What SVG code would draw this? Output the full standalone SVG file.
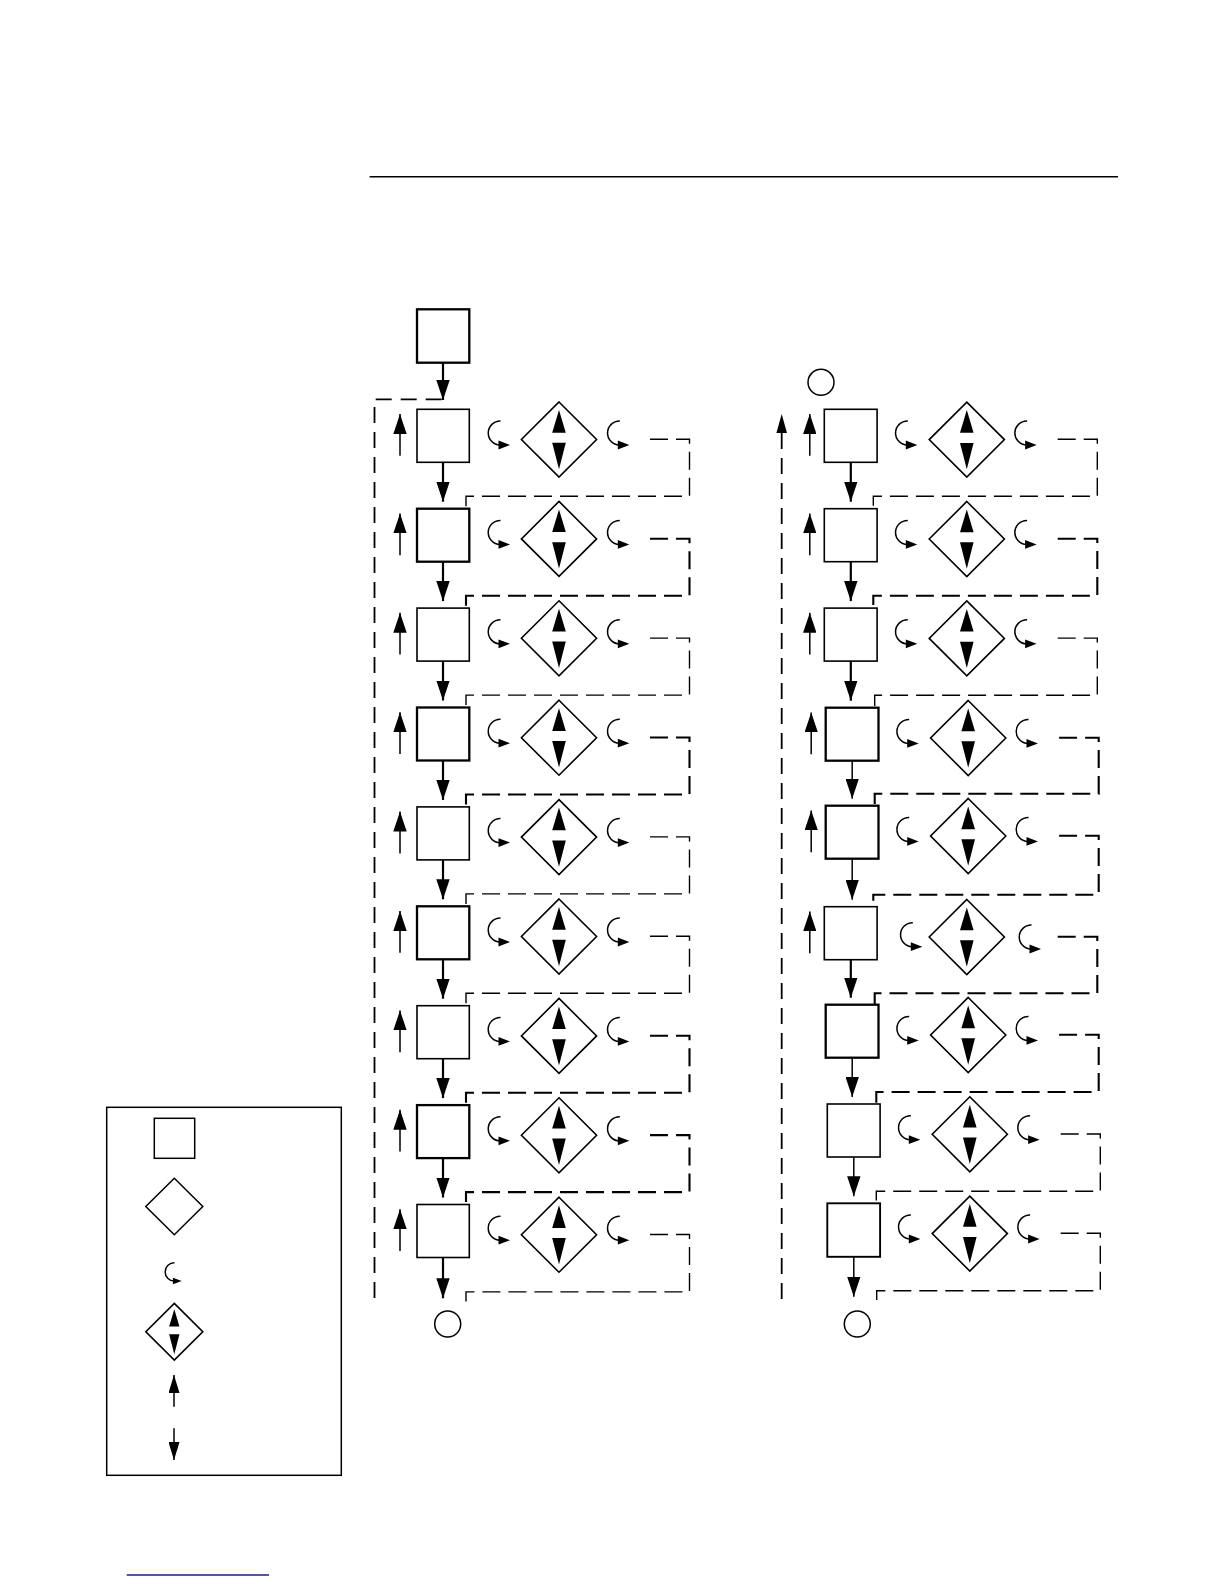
<svg xmlns="http://www.w3.org/2000/svg" width="1224" height="1584" viewBox="0 0 1224 1584">
<style>
.bx{fill:#fff;stroke:#000;stroke-width:1.6}
.bxt{fill:#fff;stroke:#000;stroke-width:2.3}
.sh{fill:none;stroke:#000;stroke-width:2.2}
.shu{fill:none;stroke:#000;stroke-width:1.5}
.dl{fill:none;stroke:#000;stroke-width:1.4;stroke-dasharray:18 8}
.dh{fill:none;stroke:#000;stroke-width:2.1;stroke-dasharray:18 8}
.fb{fill:none;stroke:#000;stroke-width:1.8;stroke-dasharray:16 9}
.ci{fill:#fff;stroke:#000;stroke-width:1.5}
</style>
<defs>
<marker id="ah" viewBox="0 0 20 13.4" refX="20" refY="6.7" markerWidth="20" markerHeight="13.4" markerUnits="userSpaceOnUse" orient="auto"><path d="M0,0 L20,6.7 L0,13.4 z" fill="#000"/></marker>
<marker id="ahs" viewBox="0 0 18 11" refX="18" refY="5.5" markerWidth="18" markerHeight="11" markerUnits="userSpaceOnUse" orient="auto"><path d="M0,0 L18,5.5 L0,11 z" fill="#000"/></marker>
<g id="curl"><path d="M-9.5,-24 A12,12 0 0 0 -10,0" fill="none" stroke="#000" stroke-width="1.5" vector-effect="non-scaling-stroke"/><polygon points="-11.5,-4.4 0,0 -11.5,4.4" fill="#000"/></g>
<g id="valve"><polygon points="0,-37.5 37.6,0 0,37.5 -37.6,0" fill="#fff" stroke="#000" stroke-width="1.6" vector-effect="non-scaling-stroke"/><polygon points="0,-29.5 6.8,-6.8 -6.8,-6.8" fill="#000"/><polygon points="-6.8,3.3 6.8,3.3 0,29.7" fill="#000"/></g>
</defs>
<rect width="1224" height="1584" fill="#fff"/>
<line x1="369.6" y1="176.7" x2="1118" y2="176.7" stroke="#000" stroke-width="1.5"/>

<!-- Left column nodes -->
<g id="L0-box"><rect class="bxt" x="417" y="309.3" width="52.3" height="53.4"/></g>
<g id="L1-box"><rect class="bx" x="417" y="409.3" width="52.3" height="53"/></g>
<g id="L2-box"><rect class="bxt" x="417" y="508.7" width="52.3" height="53"/></g>
<g id="L3-box"><rect class="bx" x="417" y="608.1" width="52.3" height="53"/></g>
<g id="L4-box"><rect class="bxt" x="417" y="707.5" width="52.3" height="53"/></g>
<g id="L5-box"><rect class="bx" x="417" y="806.9" width="52.3" height="53"/></g>
<g id="L6-box"><rect class="bxt" x="417" y="906.3" width="52.3" height="53"/></g>
<g id="L7-box"><rect class="bx" x="417" y="1005.7" width="52.3" height="53"/></g>
<g id="L8-box"><rect class="bxt" x="417" y="1105.1" width="52.3" height="53"/></g>
<g id="L9-box"><rect class="bx" x="417" y="1204.5" width="52.3" height="53"/></g>
<g id="L1-valve"><use href="#valve" transform="translate(559,439.5)"/></g>
<g id="L2-valve"><use href="#valve" transform="translate(559,538.9)"/></g>
<g id="L3-valve"><use href="#valve" transform="translate(559,638.3)"/></g>
<g id="L4-valve"><use href="#valve" transform="translate(559,737.7)"/></g>
<g id="L5-valve"><use href="#valve" transform="translate(559,837.1)"/></g>
<g id="L6-valve"><use href="#valve" transform="translate(559,936.5)"/></g>
<g id="L7-valve"><use href="#valve" transform="translate(559,1035.9)"/></g>
<g id="L8-valve"><use href="#valve" transform="translate(559,1135.3)"/></g>
<g id="L9-valve"><use href="#valve" transform="translate(559,1234.7)"/></g>
<g id="L-end"><circle class="ci" cx="447.7" cy="1324" r="13"/></g>

<!-- Right column nodes -->
<g id="R-start"><circle class="ci" cx="821" cy="382.3" r="13"/></g>
<g id="R1-box"><rect class="bx" x="824.3" y="409.3" width="52.8" height="53"/></g>
<g id="R2-box"><rect class="bx" x="824.3" y="508.7" width="52.8" height="53"/></g>
<g id="R3-box"><rect class="bx" x="824.3" y="608.1" width="52.8" height="53"/></g>
<g id="R4-box"><rect class="bxt" x="825.7" y="707.7" width="52.8" height="53"/></g>
<g id="R5-box"><rect class="bxt" x="825.7" y="805.7" width="52.8" height="53"/></g>
<g id="R6-box"><rect class="bx" x="824.3" y="906.7" width="52.8" height="53"/></g>
<g id="R7-box"><rect class="bxt" x="825.7" y="1004.7" width="52.8" height="53"/></g>
<g id="R8-box"><rect class="bx" x="827.3" y="1104" width="52.8" height="53"/></g>
<g id="R9-box"><rect class="bx" x="827.3" y="1203.3" width="52.8" height="53.5" style="stroke-width:1.9"/></g>
<g id="R1-valve"><use href="#valve" transform="translate(966.8,439.6)"/></g>
<g id="R2-valve"><use href="#valve" transform="translate(966.8,539)"/></g>
<g id="R3-valve"><use href="#valve" transform="translate(966.8,638.4)"/></g>
<g id="R4-valve"><use href="#valve" transform="translate(968.2,738)"/></g>
<g id="R5-valve"><use href="#valve" transform="translate(968.2,836)"/></g>
<g id="R6-valve"><use href="#valve" transform="translate(966.8,937)"/></g>
<g id="R7-valve"><use href="#valve" transform="translate(968.2,1035)"/></g>
<g id="R8-valve"><use href="#valve" transform="translate(969.8,1134.3)"/></g>
<g id="R9-valve"><use href="#valve" transform="translate(969.8,1233.6)"/></g>
<g id="R-end"><circle class="ci" cx="857.3" cy="1324" r="13"/></g>

<!-- Connectors -->
<g id="connectors">
<!-- left column down arrows -->
<line class="sh" x1="443" y1="362.7" x2="443" y2="400" marker-end="url(#ah)"/>
<line class="sh" x1="443" y1="462.3" x2="443" y2="501.7" marker-end="url(#ah)"/>
<line class="sh" x1="443" y1="561.7" x2="443" y2="601.1" marker-end="url(#ah)"/>
<line class="sh" x1="443" y1="661.1" x2="443" y2="700.5" marker-end="url(#ah)"/>
<line class="sh" x1="443" y1="760.5" x2="443" y2="799.9" marker-end="url(#ah)"/>
<line class="sh" x1="443" y1="859.9" x2="443" y2="899.3" marker-end="url(#ah)"/>
<line class="sh" x1="443" y1="959.3" x2="443" y2="998.7" marker-end="url(#ah)"/>
<line class="sh" x1="443" y1="1058.7" x2="443" y2="1098.1" marker-end="url(#ah)"/>
<line class="sh" x1="443" y1="1158.1" x2="443" y2="1197.5" marker-end="url(#ah)"/>
<line class="sh" x1="443" y1="1257.5" x2="443" y2="1298.3" marker-end="url(#ah)"/>
<!-- left column up arrows -->
<line class="shu" x1="400" y1="455.8" x2="400" y2="414" marker-end="url(#ah)"/>
<line class="shu" x1="400" y1="555.2" x2="400" y2="513.4" marker-end="url(#ah)"/>
<line class="shu" x1="400" y1="654.6" x2="400" y2="612.8" marker-end="url(#ah)"/>
<line class="shu" x1="400" y1="754" x2="400" y2="712.2" marker-end="url(#ah)"/>
<line class="shu" x1="400" y1="853.4" x2="400" y2="811.6" marker-end="url(#ah)"/>
<line class="shu" x1="400" y1="952.8" x2="400" y2="911" marker-end="url(#ah)"/>
<line class="shu" x1="400" y1="1052.2" x2="400" y2="1010.4" marker-end="url(#ah)"/>
<line class="shu" x1="400" y1="1151.6" x2="400" y2="1109.8" marker-end="url(#ah)"/>
<line class="shu" x1="400" y1="1251" x2="400" y2="1209.2" marker-end="url(#ah)"/>
<!-- left column curls -->
<use href="#curl" transform="translate(510,445)"/><use href="#curl" transform="translate(629.3,445)"/>
<use href="#curl" transform="translate(510,544.4)"/><use href="#curl" transform="translate(629.3,544.4)"/>
<use href="#curl" transform="translate(510,643.8)"/><use href="#curl" transform="translate(629.3,643.8)"/>
<use href="#curl" transform="translate(510,743.2)"/><use href="#curl" transform="translate(629.3,743.2)"/>
<use href="#curl" transform="translate(510,842.6)"/><use href="#curl" transform="translate(629.3,842.6)"/>
<use href="#curl" transform="translate(510,942)"/><use href="#curl" transform="translate(629.3,942)"/>
<use href="#curl" transform="translate(510,1041.4)"/><use href="#curl" transform="translate(629.3,1041.4)"/>
<use href="#curl" transform="translate(510,1140.8)"/><use href="#curl" transform="translate(629.3,1140.8)"/>
<use href="#curl" transform="translate(510,1240.2)"/><use href="#curl" transform="translate(629.3,1240.2)"/>
<!-- left column dashed loops -->
<path class="dl" d="M650,439.3 H689.5 V496.3 H466 V508.7"/>
<path class="dh" d="M650,538.7 H689.5 V595.7 H466 V608.1"/>
<path class="dl" d="M650,638.1 H689.5 V695.1 H466 V707.5"/>
<path class="dh" d="M650,737.5 H689.5 V794.5 H466 V806.9"/>
<path class="dl" d="M650,836.9 H689.5 V893.9 H466 V906.3"/>
<path class="dl" d="M650,936.3 H689.5 V993.3 H466 V1005.7"/>
<path class="dh" d="M650,1035.7 H689.5 V1092.7 H466 V1105.1"/>
<path class="dh" d="M650,1135.1 H689.5 V1192.1 H466 V1204.5"/>
<path class="dl" d="M650,1234.5 H689.5 V1291.9 H466 V1302.5"/>
<!-- left feedback -->
<path class="fb" d="M441.7,399.3 H374.5 V1305"/>

<!-- right column down arrows -->
<line class="sh" x1="850.8" y1="462.3" x2="850.8" y2="501.7" marker-end="url(#ah)"/>
<line class="sh" x1="850.8" y1="561.7" x2="850.8" y2="601.1" marker-end="url(#ah)"/>
<line class="sh" x1="850.8" y1="661.1" x2="850.8" y2="700.7" marker-end="url(#ah)"/>
<line class="shu" x1="852.2" y1="760.7" x2="852.2" y2="798.7" marker-end="url(#ah)"/>
<line class="shu" x1="852.2" y1="858.7" x2="852.2" y2="899.7" marker-end="url(#ah)"/>
<line class="sh" x1="850.8" y1="959.7" x2="850.8" y2="997.7" marker-end="url(#ah)"/>
<line class="shu" x1="852.2" y1="1057.7" x2="852.2" y2="1097" marker-end="url(#ah)"/>
<line class="shu" x1="853.8" y1="1157" x2="853.8" y2="1196.3" marker-end="url(#ah)"/>
<line class="shu" x1="853.8" y1="1256.8" x2="853.8" y2="1296.7" marker-end="url(#ah)"/>
<!-- right column up arrows -->
<line class="shu" x1="809.8" y1="455.8" x2="809.8" y2="414" marker-end="url(#ah)"/>
<line class="shu" x1="809.8" y1="555.2" x2="809.8" y2="513.4" marker-end="url(#ah)"/>
<line class="shu" x1="809.8" y1="654.6" x2="809.8" y2="612.8" marker-end="url(#ah)"/>
<line class="shu" x1="811.2" y1="754.2" x2="811.2" y2="712.4" marker-end="url(#ah)"/>
<line class="shu" x1="811.2" y1="852.2" x2="811.2" y2="810.4" marker-end="url(#ah)"/>
<line class="shu" x1="809.8" y1="953.2" x2="809.8" y2="911.4" marker-end="url(#ah)"/>
<!-- right column curls -->
<use href="#curl" transform="translate(917.3,445)"/><use href="#curl" transform="translate(1036.6,445)"/>
<use href="#curl" transform="translate(917.3,544.4)"/><use href="#curl" transform="translate(1036.6,544.4)"/>
<use href="#curl" transform="translate(917.3,643.8)"/><use href="#curl" transform="translate(1036.6,643.8)"/>
<use href="#curl" transform="translate(918.7,743.4)"/><use href="#curl" transform="translate(1038,743.4)"/>
<use href="#curl" transform="translate(918.7,841.4)"/><use href="#curl" transform="translate(1038,841.4)"/>
<use href="#curl" transform="translate(922.3,946.7)"/><use href="#curl" transform="translate(1041,949)"/>
<use href="#curl" transform="translate(918.7,1040.4)"/><use href="#curl" transform="translate(1038,1040.4)"/>
<use href="#curl" transform="translate(920.3,1139.7)"/><use href="#curl" transform="translate(1039.6,1139.7)"/>
<use href="#curl" transform="translate(920.3,1239)"/><use href="#curl" transform="translate(1039.6,1239)"/>
<!-- right column dashed loops -->
<path class="dl" d="M1057.7,439.3 H1097.3 V496.3 H873.3 V508.7"/>
<path class="dh" d="M1057.7,538.7 H1097.3 V595.7 H873.3 V608.1"/>
<path class="dl" d="M1057.7,638.1 H1097.3 V695.3 H874.7 V707.7"/>
<path class="dh" d="M1059.1,737.7 H1098.7 V793.7 H874.7 V805.7"/>
<path class="dh" d="M1059.1,835.7 H1098.7 V894.7 H873.3 V906.7"/>
<path class="dh" d="M1057.7,936.7 H1097.3 V993.3 H874.7 V1004.7"/>
<path class="dh" d="M1059.1,1034.7 H1098.7 V1092 H876.3 V1104"/>
<path class="dl" d="M1060.7,1134 H1100.3 V1191.3 H876.3 V1203.3"/>
<path class="dl" d="M1060.7,1233.3 H1100.3 V1290.7 H876.7 V1301.7"/>
<!-- right feedback -->
<path class="fb" d="M781.7,433 V1303"/>
<polygon points="781.7,414 787,433 776.4,433" fill="#000"/>
</g>

<!-- Legend -->
<g id="legend">
<rect x="106.7" y="1107.3" width="234.6" height="368" fill="none" stroke="#000" stroke-width="1.5"/>
<g id="legend-box"><rect class="bx" x="154.3" y="1118.3" width="40.4" height="40" style="stroke-width:1.5"/></g>
<g id="legend-diamond"><polygon points="174.3,1178.3 202.8,1206.5 174.3,1234.7 145.8,1206.5" fill="#fff" stroke="#000" stroke-width="1.5"/></g>
<g id="legend-curl"><use href="#curl" transform="translate(181.7,1281) scale(0.76)"/></g>
<g id="legend-valve"><use href="#valve" transform="translate(174.3,1331.7) scale(0.757)"/></g>
<g id="legend-up"><line class="shu" x1="174" y1="1406.7" x2="174" y2="1375" marker-end="url(#ahs)"/></g>
<g id="legend-down"><line class="shu" x1="174" y1="1428.3" x2="174" y2="1460" marker-end="url(#ahs)"/></g>
</g>

<line x1="126.7" y1="1575" x2="269" y2="1575" stroke="#1c1c8c" stroke-width="1.4"/>
</svg>
